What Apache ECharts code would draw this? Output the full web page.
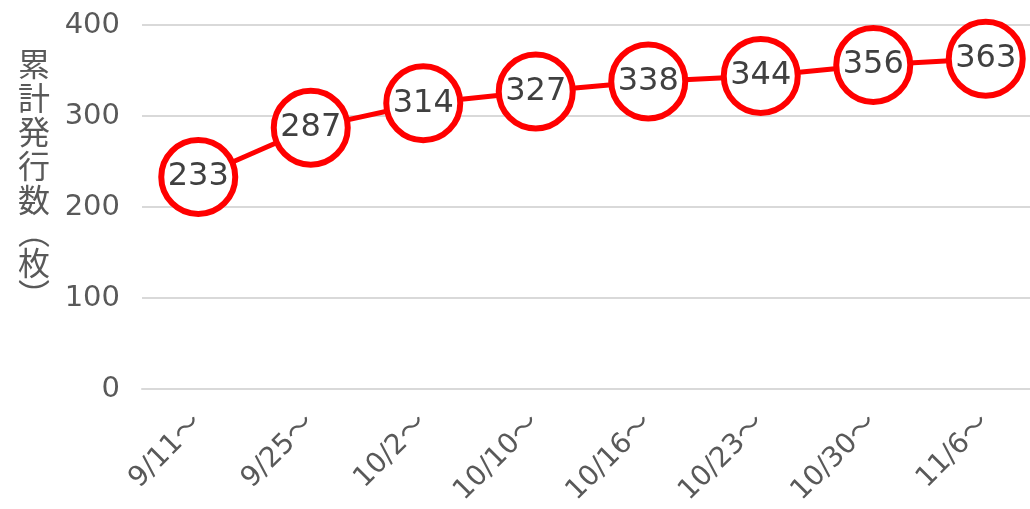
<!DOCTYPE html>
<html>
<head>
<meta charset="utf-8">
<script src="https://cdn.jsdelivr.net/npm/echarts@6/dist/echarts.min.js"></script>
<style>
  html, body { margin: 0; padding: 0; background: #fff; }
  #chart { width: 1030px; height: 509px; }
</style>
</head>
<body>
<div id="chart"></div>
<script>
const categories = ["9/11〜", "9/25〜", "10/2〜", "10/10〜", "10/16〜", "10/23〜", "10/30〜", "11/6〜"];
const issued = [233, 287, 314, 327, 338, 344, 356, 363];
const yTicks = { min: 0, max: 400, interval: 100 };

const chart = echarts.init(document.getElementById("chart"));
const numFont = "'DejaVu Sans', 'Noto Sans CJK JP', sans-serif";
const jpFont = "'Noto Sans CJK JP', sans-serif";

chart.setOption({
  animation: false,
  grid: {
    left: 142, width: 900, top: 25, bottom: 120,
    containLabel: false, outerBoundsMode: "none"
  },
  xAxis: {
    type: "category",
    data: categories,
    axisLine: { show: true, lineStyle: { color: "#d9d9d9", width: 2 } },
    axisTick: { show: false },
    axisLabel: {
      rotate: 45,
      margin: 30,
      color: "#595959",
      fontSize: 28,
      fontFamily: numFont
    }
  },
  yAxis: {
    type: "value",
    min: yTicks.min,
    max: yTicks.max,
    interval: yTicks.interval,
    // vertical label, parens in their vertical forms
    name: "{c|累}\n{c|計}\n{c|発}\n{c|行}\n{c|数}\n{p|︵}\n{c|枚}\n{p|︶}",
    nameLocation: "middle",
    nameGap: 92,
    nameRotate: 0,
    nameTextStyle: {
      color: "#595959",
      fontFamily: jpFont,
      padding: [0, 0, 58, 0],
      rich: {
        c: { fontSize: 32, lineHeight: 34, color: "#595959", fontFamily: jpFont },
        p: { fontSize: 32, lineHeight: 29, color: "#595959", fontFamily: jpFont }
      }
    },
    axisLine: { show: false },
    axisTick: { show: false },
    splitLine: { lineStyle: { color: "#d9d9d9", width: 2 } },
    axisLabel: {
      margin: 22,
      color: "#595959",
      fontSize: 29,
      fontFamily: numFont
    }
  },
  series: [{
    type: "line",
    data: issued,
    symbol: "circle",
    symbolSize: 74,
    lineStyle: { color: "#ff0000", width: 5 },
    itemStyle: { color: "#ffffff", borderColor: "#ff0000", borderWidth: 6 },
    label: {
      show: true,
      position: "inside",
      color: "#404040",
      fontSize: 32,
      fontFamily: numFont
    },
    z: 3
  }]
});
</script>
</body>
</html>
